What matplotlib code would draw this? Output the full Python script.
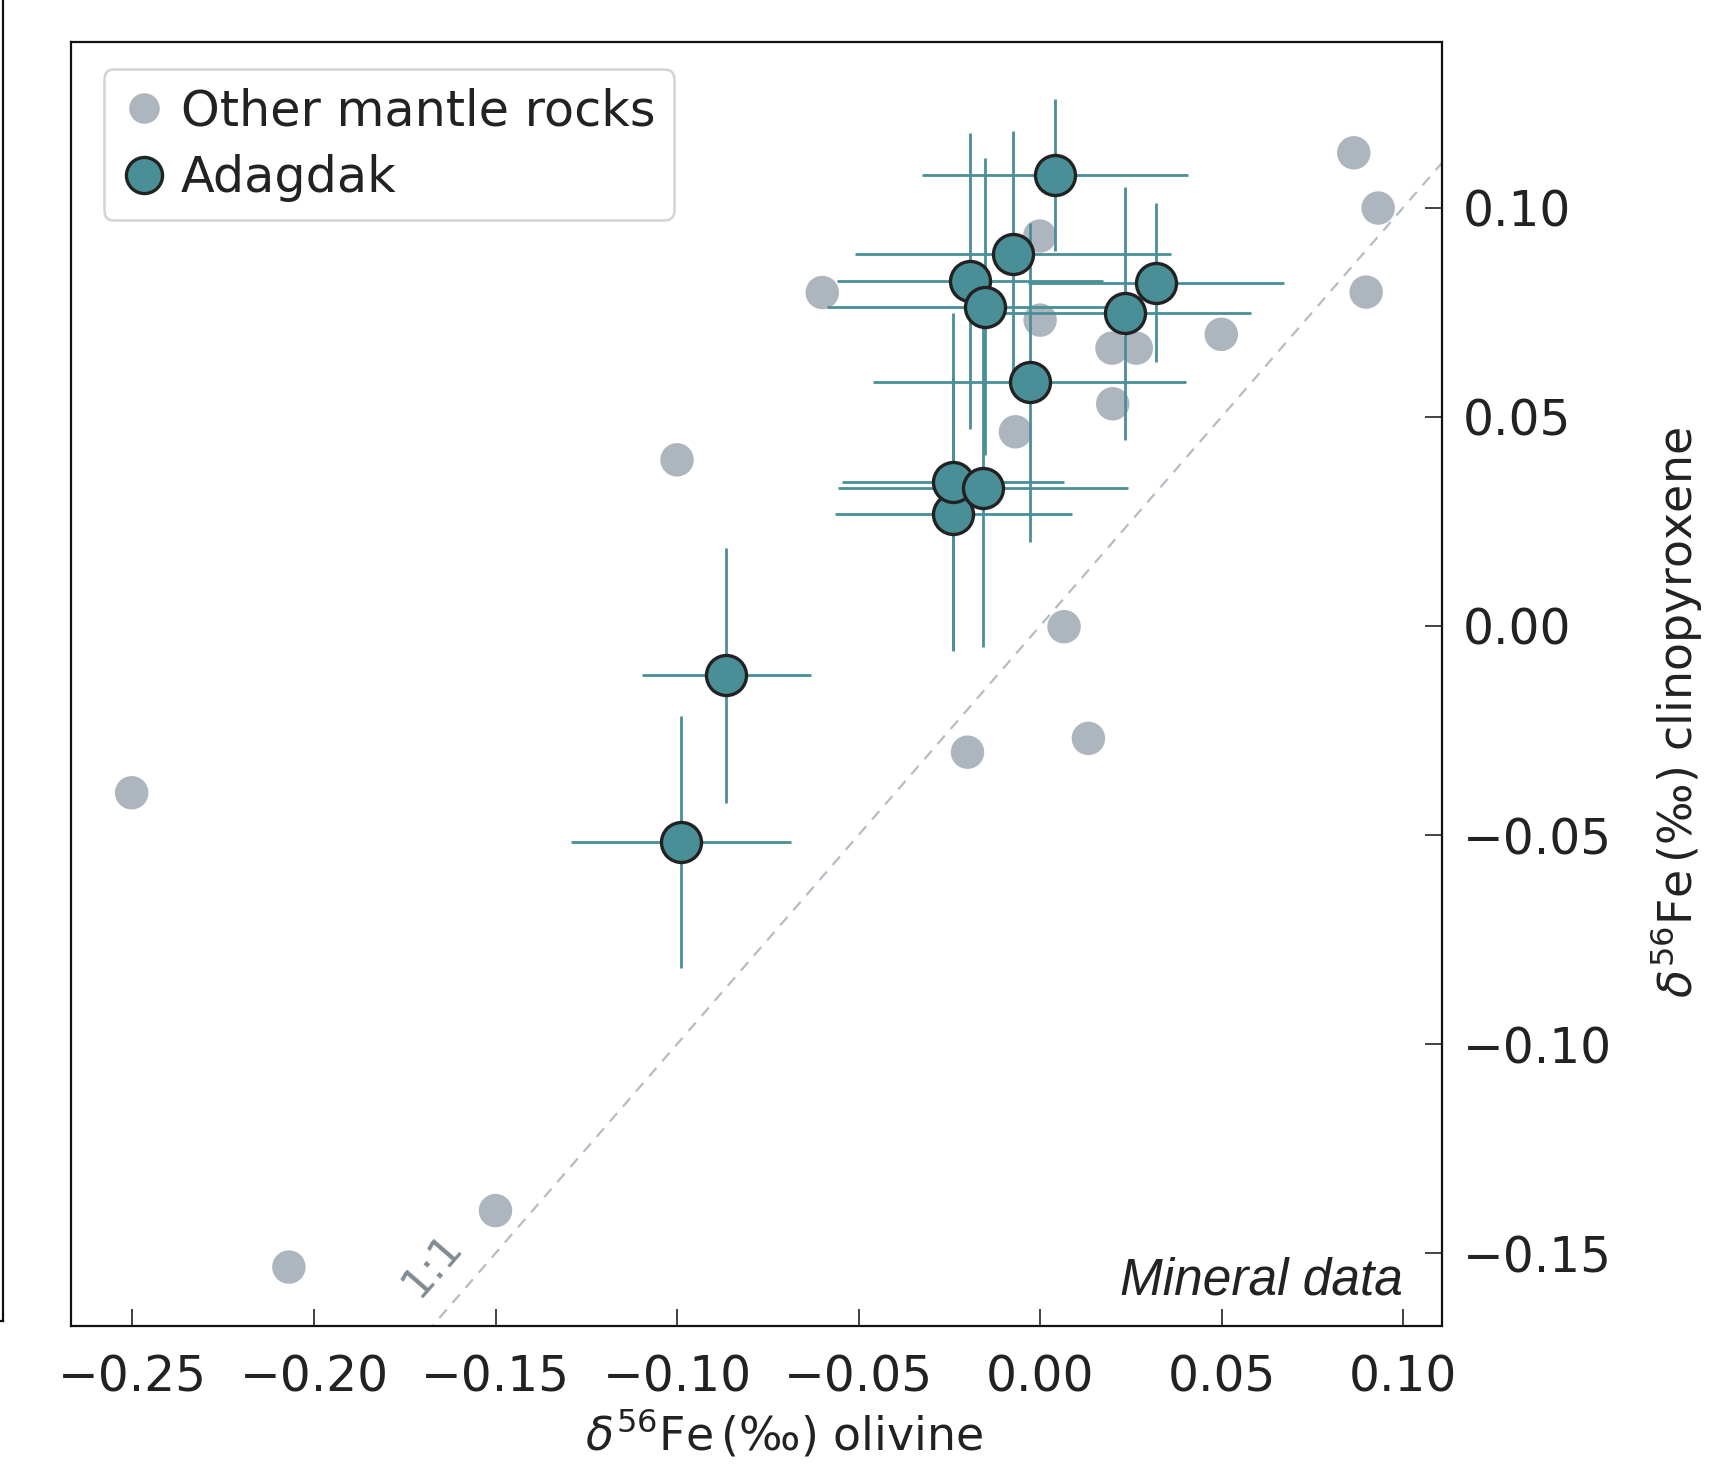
import matplotlib
matplotlib.use("Agg")
import matplotlib.pyplot as plt
from matplotlib.lines import Line2D

# Dati (delta56Fe olivina / clinopirosseno)
other_x = [-0.0600, -0.0001, 0.0000, 0.0198, 0.0265, 0.0499, 0.0200, -0.0068,
           -0.1000, 0.0066, -0.0200, 0.0133, -0.1500, -0.2069, -0.2502,
           0.0864, 0.0931, 0.0898]
other_y = [0.0797, 0.0932, 0.0731, 0.0664, 0.0664, 0.0697, 0.0531, 0.0464,
           0.0397, -0.0002, -0.0302, -0.0269, -0.1398, -0.1533, -0.0399,
           0.1131, 0.0999, 0.0798]

ada_x = [0.0040, -0.0075, -0.0194, -0.0153, 0.0233, 0.0320, -0.0029,
         -0.0239, -0.0239, -0.0158, -0.0864, -0.0988]
ada_y = [0.1078, 0.0889, 0.0824, 0.0763, 0.0747, 0.0820, 0.0582,
         0.0268, 0.0345, 0.0330, -0.0118, -0.0517]
ada_xerr = [0.0366, 0.0435, 0.0366, 0.0433, 0.0348, 0.0353, 0.0431,
            0.0326, 0.0306, 0.0400, 0.0233, 0.0303]
ada_yerr = [0.0181, 0.0295, 0.0354, 0.0355, 0.0302, 0.0190, 0.0382,
            0.0326, 0.0404, 0.0381, 0.0305, 0.0302]

x_ticks = [-0.25, -0.20, -0.15, -0.10, -0.05, 0.00, 0.05, 0.10]
y_ticks = [-0.15, -0.10, -0.05, 0.00, 0.05, 0.10]
xlim = (-0.267, 0.1107)
ylim = (-0.1674, 0.1396)

teal = "#4a8f98"
grey = "#adb5be"

plt.rcParams["font.family"] = "DejaVu Sans"
plt.rcParams["mathtext.fontset"] = "dejavusans"

fig = plt.figure(figsize=(17.33, 14.68), dpi=100)
ax = fig.add_axes([0.0408, 0.0967, 0.7913, 0.8747])

# Linea 1:1
lo = min(xlim[0], ylim[0])
hi = max(xlim[1], ylim[1])
ax.plot([lo, hi], [lo, hi], ls=(0, (5, 4)), color="#b4bcc4", lw=1.6, zorder=1)

# Altre rocce del mantello
ax.scatter(other_x, other_y, s=580, color=grey, edgecolors="none", zorder=2)

# Adagdak con barre d'errore
ax.errorbar(ada_x, ada_y, xerr=ada_xerr, yerr=ada_yerr, fmt="none",
            ecolor=teal, elinewidth=2.0, capsize=0, zorder=3)
ax.scatter(ada_x, ada_y, s=830, color=teal, edgecolors="#222222",
           linewidths=2.4, zorder=4)

ax.set_xlim(*xlim)
ax.set_ylim(*ylim)
ax.set_xticks(x_ticks)
ax.set_yticks(y_ticks)
ax.set_xticklabels([f"{v:.2f}".replace("-", "\u2212") for v in x_ticks])
ax.set_yticklabels([f"{v:.2f}".replace("-", "\u2212") for v in y_ticks])

ax.yaxis.tick_right()
ax.yaxis.set_label_position("right")
ax.tick_params(axis="both", direction="in", length=12, width=1.2,
               labelsize=35, colors="#222222")
ax.tick_params(axis="x", pad=20)
ax.tick_params(axis="y", pad=15)
for sp in ax.spines.values():
    sp.set_linewidth(1.6)
    sp.set_color("#111111")

ax.set_xlabel(r"$\delta^{56}$Fe$\,$(‰) olivine", fontsize=33, labelpad=4,
              color="#222222")
ax.set_ylabel(r"$\delta^{56}$Fe$\,$(‰) clinopyroxene", fontsize=33,
              labelpad=26, color="#222222")
ax.xaxis.label.set_x(0.52)
ax.yaxis.label.set_y(0.478)

ax.text(-0.1674, -0.1527, "1:1", rotation=49, fontsize=31, color="#7f8a92",
        fontweight="medium", ha="center", va="center", rotation_mode="anchor")
ax.text(0.1000, -0.1625, "Mineral data", fontsize=37, style="italic",
        family="Liberation Sans", ha="right", va="bottom", color="#222222")

handles = [
    Line2D([], [], ls="none", marker="o", markersize=22, color=grey,
           markeredgecolor="none", label="Other mantle rocks"),
    Line2D([], [], ls="none", marker="o", markersize=26, color=teal,
           markeredgecolor="#222222", markeredgewidth=2.4, label="Adagdak"),
]
leg = ax.legend(handles=handles, loc="upper left", fontsize=35.5,
                bbox_to_anchor=(0.024, 0.979), frameon=True, fancybox=True,
                handlelength=0.9, handletextpad=0.3, borderpad=0.37,
                labelspacing=0.38, borderaxespad=0.0)
leg.get_frame().set_edgecolor("#c8c8c8")
leg.get_frame().set_linewidth(1.8)
for t in leg.get_texts():
    t.set_color("#222222")

# bordo del pannello adiacente a sinistra
fig.add_artist(Line2D([0.0018, 0.0018], [0.1001, 1.0], transform=fig.transFigure,
                      color="#111111", lw=1.6))
fig.add_artist(Line2D([0.0, 0.0018], [0.1001, 0.1001], transform=fig.transFigure,
                      color="#111111", lw=1.6))

fig.savefig("out.png", dpi=100)
